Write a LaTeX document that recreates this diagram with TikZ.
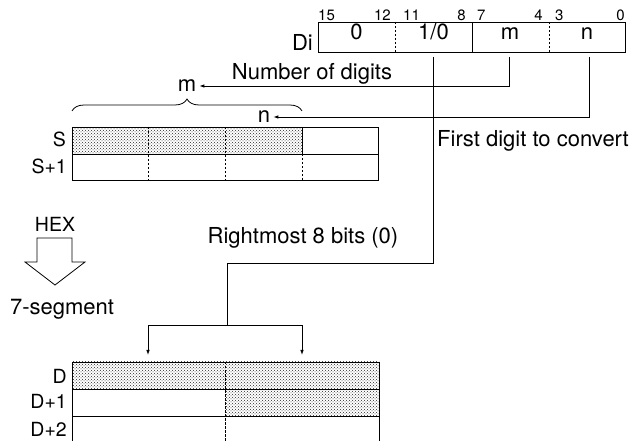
\documentclass[tikz,border=0pt]{standalone}
\usepackage{fontspec}
\setmainfont{TeX Gyre Heros}
\usetikzlibrary{patterns,arrows.meta,decorations.pathreplacing}
\begin{document}
\begin{tikzpicture}[x=1pt,y=-1pt,
  lbl/.style={font=\fontsize{22}{26}\selectfont, inner sep=0pt},
  reglbl/.style={font=\fontsize{19.5}{23}\selectfont, inner sep=0pt},
  bitnum/.style={font=\fontsize{15}{18}\selectfont, inner sep=0pt},
  reg/.style={line width=0.9pt},
  sepline/.style={line width=0.7pt, dash pattern=on 2.5pt off 1.5pt},
  conn/.style={line width=0.8pt},
  arr/.style={conn,-{Latex[length=5pt,width=3.5pt]}},
  dotfill/.style={pattern=crosshatch dots, pattern color=black!85}]
\useasboundingbox (0,0) rectangle (641,441);

% ---------- Di register ----------
\draw[reg] (318,22) rectangle (625,52);
\draw[sepline] (395,22) -- (395,52);
\draw[reg] (472,22) -- (472,52);
\draw[sepline] (549,22) -- (549,52);
\node[lbl, anchor=base] (f0) at (356.5,40) {0};
\node[lbl, anchor=base] (f1) at (433.5,40) {1/0};
\node[lbl, anchor=base] (fm) at (510,40) {m};
\node[lbl, anchor=base] (fn) at (587,40) {n};
\node[lbl, anchor=base east] (di) at (313,51) {Di};
\node[bitnum, anchor=south west] (b15) at (318,21) {15};
\node[bitnum, anchor=south east] (b12) at (391,21) {12};
\node[bitnum, anchor=south west] (b11) at (403,21) {11};
\node[bitnum, anchor=south east] (b8) at (466,21) {8};
\node[bitnum, anchor=south west] (b7) at (477,21) {7};
\node[bitnum, anchor=south east] (b4) at (543,21) {4};
\node[bitnum, anchor=south west] (b3) at (555,21) {3};
\node[bitnum, anchor=south east] (b0) at (625,21) {0};

\coordinate (c1) at (433,57);
\coordinate (cm) at (509,57);
\coordinate (cn) at (589,57);

% ---------- S register ----------
\fill[dotfill] (72,127) rectangle (302,154);
\draw[reg] (72,127) rectangle (378,180);
\draw[reg] (72,154) -- (378,154);
\draw[sepline] (148.5,127) -- (148.5,180);
\draw[sepline] (225,127) -- (225,180);
\draw[reg] (302,127) -- (302,154);
\draw[sepline] (302,154) -- (302,180);
\node[reglbl, anchor=base east] (slab) at (66,147) {S};
\node[reglbl, anchor=base east] (s1lab) at (67,174) {S+1};

% brace
\draw[conn, decorate, decoration={brace, amplitude=12pt}] (72,111) -- (302,111);

% m and n labels
\node[lbl, inner sep=3pt] (mlab) at (187,86) {m};
\node[lbl, inner sep=3pt] (nlab) at (264,117) {n};
\node[lbl, anchor=base] (numdig) at (312,80) {Number of digits};
\node[lbl, anchor=base west] (first) at (437,147) {First digit to convert};

\draw[arr] (cm) |- (mlab.east);
\draw[arr] (cn) |- (nlab.east);

% ---------- HEX arrow ----------
\node[reglbl, anchor=base] (hex) at (55,232) {HEX};
\draw[conn] (37,238) -- (72,238) -- (72,262) -- (85,262) -- (55,285) -- (25,262) -- (37,262) -- cycle;
\node[lbl, anchor=base] (seg) at (62,315) {7-segment};

\node[lbl, anchor=base] (right8) at (303,244) {Rightmost 8 bits (0)};

% ---------- D register ----------
\fill[dotfill] (72,362) rectangle (379,389);
\fill[dotfill] (225.5,389) rectangle (379,416);
\draw[reg] (72,441) -- (72,362) -- (379,362) -- (379,441);
\draw[reg] (72,389) -- (379,389);
\draw[reg] (72,416) -- (379,416);
\draw[sepline] (225.5,362) -- (225.5,441);
\node[reglbl, anchor=base east] (dlab) at (67,383) {D};
\node[reglbl, anchor=base east] (d1lab) at (67,409) {D+1};
\node[reglbl, anchor=base east] (d2lab) at (67,436) {D+2};

\coordinate (tl) at (148,355);
\coordinate (tr) at (302,355);
\coordinate (split) at (227,325);

\draw[conn] (c1) -- (433,263) -| (split);
\draw[arr] (split) -| (tl);
\draw[arr] (split) -| (tr);
\end{tikzpicture}
\end{document}
